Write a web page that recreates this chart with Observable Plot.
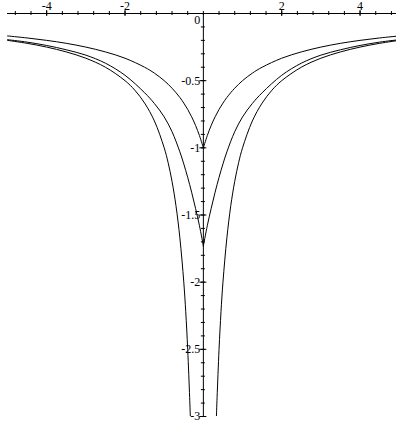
<!DOCTYPE html>
<html>
<head>
<meta charset="utf-8">
<script src="https://cdn.jsdelivr.net/npm/d3@7"></script>
<script src="https://cdn.jsdelivr.net/npm/@observablehq/plot@0.6"></script>
<style>
  html, body { margin: 0; padding: 0; background: #fff; }
  #chart svg { display: block; }
</style>
</head>
<body>
<div id="chart"></div>
<script>
// Sample x positions (right branch; curves are mirror-symmetric about x = 0)
const xs = [0, 0.1, 0.2, 0.3, 0.4, 0.5, 0.6, 0.8, 1, 1.25, 1.5, 2, 2.5, 3, 3.5, 4, 4.5, 5];
// Upper curve (cusp at -1)
const curveA = [-1, -0.909, -0.833, -0.769, -0.714, -0.667, -0.625, -0.556, -0.5, -0.444, -0.4, -0.333, -0.286, -0.25, -0.222, -0.2, -0.182, -0.167];
// Middle curve (cusp near -1.72)
const curveB = [-1.73, -1.58, -1.45, -1.33, -1.22, -1.12, -1.03, -0.88, -0.77, -0.67, -0.59, -0.46, -0.37, -0.31, -0.27, -0.238, -0.213, -0.195];
// Lower curve (diverges at x = 0)
const xsC = [0.333, 0.35, 0.4, 0.45, 0.5, 0.6, 0.7, 0.8, 0.9, 1, 1.25, 1.5, 1.75, 2, 2.5, 3, 3.5, 4, 4.5, 5];
const curveC = [-3, -2.86, -2.5, -2.22, -2, -1.67, -1.43, -1.25, -1.11, -1, -0.8, -0.667, -0.571, -0.5, -0.4, -0.333, -0.286, -0.25, -0.222, -0.2];

// Axis ticks
const xTickLabels = [-4, -2, 2, 4];
const xMinorTicks = [-4.8, -4.4, -4, -3.6, -3.2, -2.8, -2.4, -2, -1.6, -1.2, -0.8, -0.4, 0, 0.4, 0.8, 1.2, 1.6, 2, 2.4, 2.8, 3.2, 3.6, 4, 4.4, 4.8];
const yTickLabels = [-0.5, -1, -1.5, -2, -2.5, -3];
const yMinorTicks = d3.range(1, 31).map(i => -i / 10);

function mirrored(xv, yv, name) {
  const out = [];
  xv.forEach((x, i) => {
    out.push({x: x, y: yv[i], key: name + "R"});
  });
  xv.forEach((x, i) => {
    out.push({x: -x, y: yv[i], key: name + "L"});
  });
  return out;
}
const lines = [
  ...mirrored(xs, curveA, "A"),
  ...mirrored(xs, curveB, "B"),
  ...mirrored(xsC, curveC, "C")
];

const font = "'Liberation Serif', 'Times New Roman', serif";

const chart = Plot.plot({
  width: 396,
  height: 425,
  marginLeft: 7,
  marginRight: 0,
  marginTop: 13,
  marginBottom: 9,
  x: {domain: [-5, 4.93], axis: null},
  y: {domain: [-3, 0], axis: null},
  style: {fontFamily: font, background: "#fff"},
  marks: [
    // axes lines
    Plot.ruleY([0], {stroke: "#000", strokeWidth: 1}),
    Plot.ruleX([0], {y1: 0, y2: -3, stroke: "#000", strokeWidth: 1}),
    // x ticks
    Plot.ruleX(xMinorTicks, {x: d => d, y1: 0, y2: 0, insetTop: -2, insetBottom: -2, stroke: "#000", strokeWidth: 1}),
    Plot.ruleX(xTickLabels, {x: d => d, y1: 0, y2: 0, insetTop: -3, insetBottom: -3, stroke: "#000", strokeWidth: 1}),
    // y ticks
    Plot.ruleY(yMinorTicks, {y: d => d, x1: 0, x2: 0, insetLeft: -2, insetRight: -2, stroke: "#000", strokeWidth: 1}),
    Plot.ruleY(yTickLabels, {y: d => d, x1: 0, x2: 0, insetLeft: -3.5, insetRight: -3.5, stroke: "#000", strokeWidth: 1}),
    // tick labels
    Plot.text(xTickLabels, {x: d => d, y: 0, text: d => String(d), textAnchor: "middle", lineAnchor: "bottom", dy: -4, fontSize: 12, fontFamily: font, fill: "#000"}),
    Plot.text(yTickLabels, {x: 0, y: d => d, text: d => String(d), textAnchor: "end", lineAnchor: "middle", dx: -3, fontSize: 12, fontFamily: font, fill: "#000", letterSpacing: "0.6px"}),
    Plot.text([0], {x: 0, y: 0, text: d => String(d), textAnchor: "end", lineAnchor: "middle", dx: -3, dy: 7, fontSize: 12, fontFamily: font, fill: "#000"}),
    // curves
    Plot.line(lines, {x: "x", y: "y", z: "key", curve: "catmull-rom", stroke: "#000", strokeWidth: 1, clip: true})
  ]
});
document.getElementById("chart").appendChild(chart);
</script>
</body>
</html>
